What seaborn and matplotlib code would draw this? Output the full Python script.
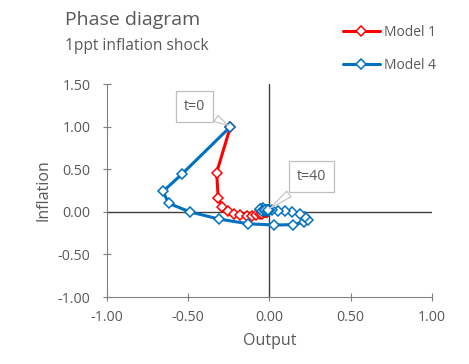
import numpy as np
import pandas as pd
import matplotlib
matplotlib.use("Agg")
import matplotlib.pyplot as plt
import seaborn as sns

# ===== DADOS =====
model1_output = [-0.24, -0.325, -0.315, -0.29, -0.255, -0.22, -0.18, -0.14, -0.105, -0.08,
                 -0.06, -0.045, -0.035, -0.03, -0.03, -0.032, -0.035, -0.037, -0.038, -0.037,
                 -0.035, -0.033, -0.031, -0.03, -0.029, -0.028, -0.027, -0.026, -0.025, -0.024,
                 -0.023, -0.022, -0.021, -0.02, -0.02, -0.019, -0.019, -0.018, -0.018, -0.017, -0.017]
model1_inflation = [1.00, 0.46, 0.16, 0.06, 0.01, -0.02, -0.035, -0.045, -0.045, -0.04,
                    -0.03, -0.02, -0.01, 0.0, 0.005, 0.008, 0.01, 0.01, 0.008, 0.005,
                    0.003, 0.002, 0.001, 0.0, 0.0, 0.0, 0.0, 0.0, 0.0, 0.0,
                    0.0, 0.0, 0.0, 0.0, 0.0, 0.0, 0.0, 0.0, 0.0, 0.0, 0.0]

model4_output = [-0.24, -0.54, -0.655, -0.62, -0.49, -0.31, -0.13, 0.03, 0.145, 0.215,
                 0.235, 0.22, 0.185, 0.14, 0.095, 0.05, 0.015, -0.015, -0.04, -0.055,
                 -0.06, -0.055, -0.045, -0.03, -0.015, -0.005, 0.0, 0.0, -0.005, -0.012,
                 -0.02, -0.025, -0.027, -0.025, -0.02, -0.015, -0.01, -0.008, -0.008, -0.01, -0.012]
model4_inflation = [1.00, 0.44, 0.24, 0.10, 0.00, -0.085, -0.14, -0.155, -0.15, -0.12,
                    -0.09, -0.055, -0.025, -0.005, 0.01, 0.015, 0.025, 0.035, 0.04, 0.04,
                    0.03, 0.02, 0.01, 0.005, 0.005, 0.01, 0.015, 0.02, 0.025, 0.027,
                    0.027, 0.024, 0.02, 0.016, 0.013, 0.012, 0.013, 0.015, 0.017, 0.018, 0.018]

ticks_x = [-1.0, -0.5, 0.0, 0.5, 1.0]
ticks_y = [-1.0, -0.5, 0.0, 0.5, 1.0, 1.5]

# ===== ESTILO =====
sns.set_style("white")
plt.rcParams['font.family'] = ['Open Sans', 'DejaVu Sans']
cinza = '#595959'

fig = plt.figure(figsize=(4.69, 3.64), dpi=100)
ax = fig.add_axes([0.228, 0.184, 0.693, 0.585])

ax.axhline(0, color='#404040', lw=1.0, zorder=1)
ax.axvline(0, color='#404040', lw=1.0, zorder=1)

series = [("Model 1", model1_output, model1_inflation, '#FF0000'),
          ("Model 4", model4_output, model4_inflation, '#0070C0')]
for nome, xs, ys, cor in series:
    df = pd.DataFrame({"Output": xs, "Inflation": ys})
    sns.lineplot(data=df, x="Output", y="Inflation", sort=False, ax=ax, color=cor,
                 lw=2.2, marker='D', markersize=5, markerfacecolor='white',
                 markeredgecolor=cor, markeredgewidth=1.1, label=nome, zorder=3)

ax.set_xlim(-1, 1)
ax.set_ylim(-1, 1.5)
ax.set_xticks(ticks_x)
ax.set_yticks(ticks_y)
ax.set_xticklabels([f"{v:.2f}" for v in ticks_x])
ax.set_yticklabels([f"{v:.2f}" for v in ticks_y])
ax.tick_params(direction='inout', length=6, width=0.8, colors='#808080',
               labelcolor=cinza, labelsize=10.3, bottom=True, left=True)
ax.tick_params(axis='y', pad=9)
ax.tick_params(axis='x', pad=6)
for s in ['top', 'right']:
    ax.spines[s].set_visible(False)
for s in ['left', 'bottom']:
    ax.spines[s].set_color('#808080')
    ax.spines[s].set_linewidth(0.8)
ax.set_xlabel("Output", color=cinza, fontsize=11.5, labelpad=6)
ax.set_ylabel("Inflation", color=cinza, fontsize=11.5, labelpad=4)

# anotações
caixa = dict(boxstyle='square,pad=0.55', fc='white', ec='#BFBFBF', lw=0.9)
seta = dict(arrowstyle='wedge,tail_width=0.5,shrink_factor=0.5', fc='white',
            ec='#BFBFBF', lw=0.8)
ax.annotate("t=0", xy=(model4_output[0], model4_inflation[0]), xytext=(-0.46, 1.24),
            ha='center', va='center', fontsize=10.3, color=cinza, bbox=caixa,
            arrowprops=seta, zorder=5)
ax.annotate("t=40", xy=(model4_output[-1], model4_inflation[-1]), xytext=(0.26, 0.415),
            ha='center', va='center', fontsize=10.3, color=cinza, bbox=caixa,
            arrowprops=seta, zorder=5)

# títulos
fig.text(65 / 469, 1 - 20 / 364, "Phase diagram", fontsize=14, color=cinza, va='center')
fig.text(65 / 469, 1 - 46 / 364, "1ppt inflation shock", fontsize=11.2, color=cinza, va='center')

# legenda
handles, labels = ax.get_legend_handles_labels()
ax.get_legend().remove()
fig.legend(handles, labels, loc='upper left', bbox_to_anchor=(330 / 469, 1 - 12 / 364),
           frameon=False, fontsize=10, handlelength=2.7, labelspacing=1.3,
           handletextpad=0.3, labelcolor=cinza)

fig.savefig("out.png", dpi=100)
